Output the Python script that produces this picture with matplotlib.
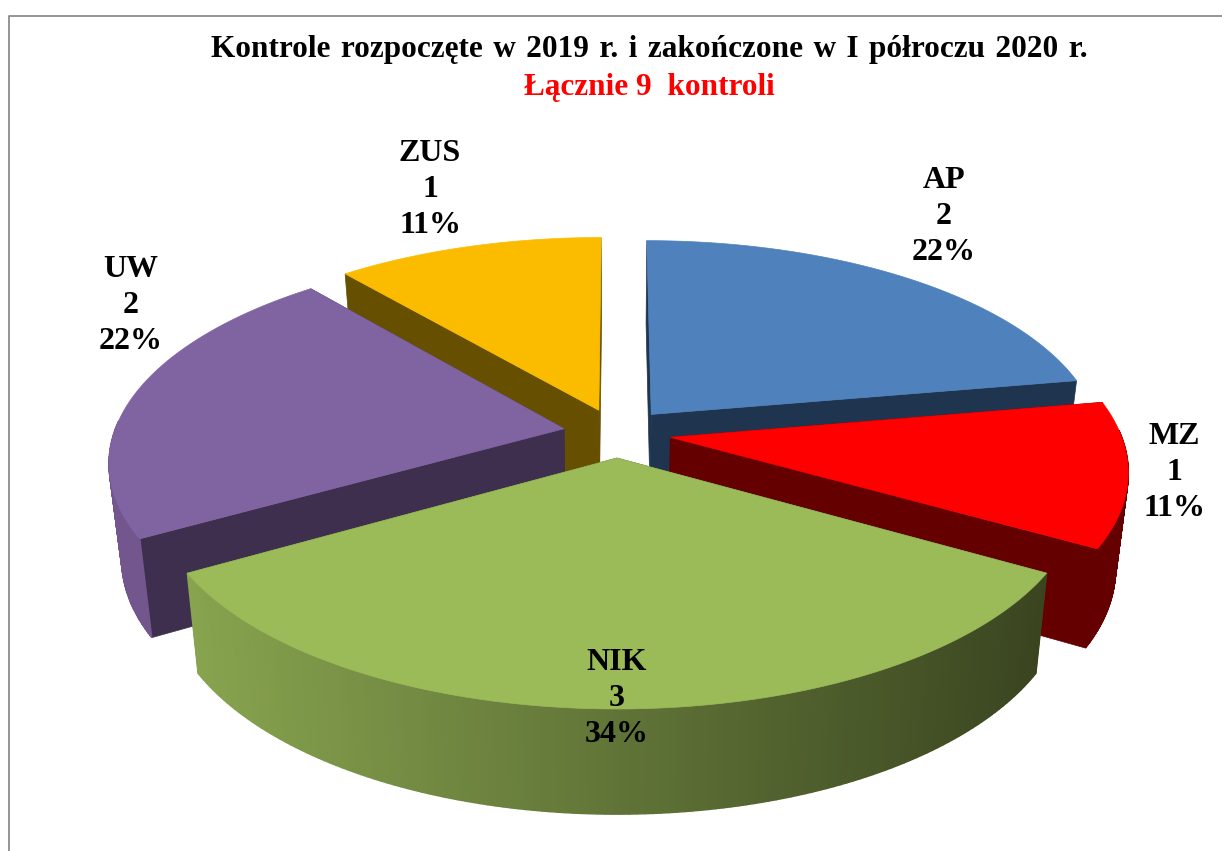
import numpy as np
import matplotlib
matplotlib.use("Agg")
import matplotlib.pyplot as plt
from matplotlib.colors import to_rgb

# ─── Data ─────────────────────────────────────────────────────────────────────
categories = ["AP", "MZ", "NIK", "UW", "ZUS"]
values     = [2, 1, 3, 2, 1]
pct_labels = ["22%", "11%", "34%", "22%", "11%"]

title_main = "Kontrole rozpoczęte w 2019 r. i zakończone w I półroczu 2020 r.".replace(" ", " \u200a")
title_sub  = "Łącznie 9  kontroli"

# ─── Style ────────────────────────────────────────────────────────────────────
TOP_COL  = {"AP": "#4f81bd", "MZ": "#ff0000", "NIK": "#9bbb59", "UW": "#8064a2", "ZUS": "#fbbc00"}
WALL_COL = {"AP": "#1f344f", "MZ": "#640000", "NIK": "#3f4a23", "UW": "#3f2f4f", "ZUS": "#665000"}
SIDE_L   = {"AP": "#1f344f", "MZ": "#640000", "NIK": "#88a44f", "UW": "#74568f", "ZUS": "#665000"}
SIDE_R   = {"AP": "#1f344f", "MZ": "#640000", "NIK": "#3a4520", "UW": "#5a4472", "ZUS": "#665000"}
LABEL_POS = {"AP": (944, 216.5), "MZ": (1174, 472.5), "NIK": (617, 698.5), "UW": (131, 305.5), "ZUS": (430, 189.5)}
DRAW_ORDER = ["ZUS", "AP", "UW", "MZ", "NIK"]

# projection of the exploded disc to the picture
CX, CY = 617, 433
SX, SY = 450, 205
PERSP  = 0.15
EXPLODE = 0.12
BASE_K = 0.975
EDGE_X0, EDGE_X1 = 187, 1047


def project(x, y, base=False):
    w = 1 + PERSP * y
    px = SX * x / w
    py = SY * y / w
    if base:
        px = px * BASE_K
        py = py - (94 - 10 * y)
    return CX + px, CY - py


def mix(c1, c2, t):
    t = min(max(t, 0), 1)
    a, b = np.array(to_rgb(c1)), np.array(to_rgb(c2))
    return tuple(a + (b - a) * t)


fig = plt.figure(figsize=(12.22, 8.51), dpi=100)
ax = fig.add_axes([0, 0, 1, 1])
ax.set_xlim(0, 1222)
ax.set_ylim(851, 0)
ax.axis("off")

# cadre du graphique
ax.plot([9, 9, 1222], [851, 15.5, 15.5], color="#8c8c8c", lw=1.3)

# ─── Angles ───────────────────────────────────────────────────────────────────
total  = sum(values)
angles = {}
start  = 0.0
for name, v in zip(categories, values):
    angles[name] = (start, start + 360.0 * v / total)
    start += 360.0 * v / total

# ─── Slices, back to front ────────────────────────────────────────────────────
for name in DRAW_ORDER:
    a0, a1 = angles[name]
    mid = np.radians((a0 + a1) / 2)
    ox, oy = EXPLODE * np.sin(mid), EXPLODE * np.cos(mid)
    th = np.radians(np.linspace(a0, a1, 140))
    xs, ys = ox + np.sin(th), oy + np.cos(th)

    # flat walls towards the centre
    for i in (0, -1):
        tx = [project(ox, oy)[0], project(xs[i], ys[i])[0], project(xs[i], ys[i], True)[0], project(ox, oy, True)[0]]
        ty = [project(ox, oy)[1], project(xs[i], ys[i])[1], project(xs[i], ys[i], True)[1], project(ox, oy, True)[1]]
        ax.fill(tx, ty, color=WALL_COL[name], lw=0.5)

    # outer rim, only the part turned to the viewer
    for j in range(len(th) - 1):
        if np.cos(th[j]) > 0.03 and np.cos(th[j + 1]) > 0.03:
            continue
        q = [project(xs[j], ys[j]), project(xs[j + 1], ys[j + 1]),
             project(xs[j + 1], ys[j + 1], True), project(xs[j], ys[j], True)]
        t = (q[0][0] - EDGE_X0) / (EDGE_X1 - EDGE_X0)
        col = mix(SIDE_L[name], SIDE_R[name], t)
        ax.fill([p[0] for p in q], [p[1] for p in q], color=col, lw=1.0)

    # top surface
    px, py = project(np.r_[ox, xs], np.r_[oy, ys])
    ax.fill(px, py, color=TOP_COL[name], lw=0.5)

# ─── Labels ───────────────────────────────────────────────────────────────────
font = ["Liberation Serif", "DejaVu Serif"]
for name, v, pct in zip(categories, values, pct_labels):
    lx, ly = LABEL_POS[name]
    ax.text(lx, ly, f"{name}\n{v}\n{pct}", ha="center", va="center", family=font,
            fontweight="bold", fontsize=23, color="black", linespacing=1.3)

ax.text(649, 49, title_main, ha="center", va="center", family=font,
        fontweight="bold", fontsize=22.5, color="black")
ax.text(649, 87, title_sub, ha="center", va="center", family=font,
        fontweight="bold", fontsize=22.5, color="#ff0000")

fig.savefig("out.png", dpi=100, facecolor="white")
